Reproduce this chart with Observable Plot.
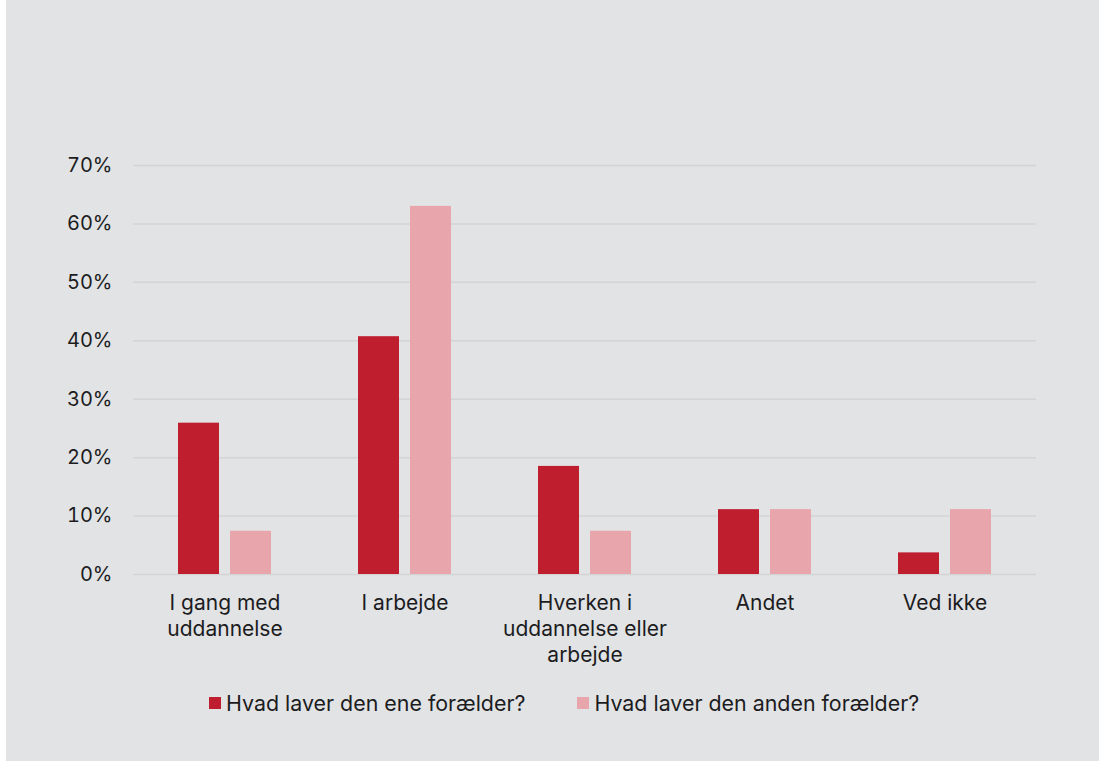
<!DOCTYPE html>
<html>
<head>
<meta charset="utf-8">
<script src="https://cdn.jsdelivr.net/npm/d3@7"></script>
<script src="https://cdn.jsdelivr.net/npm/@observablehq/plot@0.6"></script>
<style>
  html, body { margin: 0; padding: 0; background: #ffffff; }
  #wrap {
    position: relative; width: 1093px; height: 761px; margin-left: 6px;
    background: #e2e3e5; font-family: Inter, "Noto Sans", sans-serif; color: #1c1c1e;
    overflow: hidden;
  }
  #chart { position: absolute; left: 0; top: 0; }
  #legend {
    position: absolute; left: 203px; top: 690px; display: flex; align-items: center;
    font-size: 21.4px; line-height: 26px; white-space: nowrap;
  }
  #legend .item { display: flex; align-items: center; margin-right: 52px; }
  #legend .sw { width: 12px; height: 12px; margin-right: 5px; display: inline-block; }
</style>
</head>
<body>
<div id="wrap">
  <div id="chart"></div>
  <div id="legend"></div>
</div>
<script>
const categories = ["I gang med uddannelse", "I arbejde", "Hverken i uddannelse eller arbejde", "Andet", "Ved ikke"];
const categoryLabels = ["I gang med\nuddannelse", "I arbejde", "Hverken i\nuddannelse eller\narbejde", "Andet", "Ved ikke"];
const seriesNames = ["Hvad laver den ene forælder?", "Hvad laver den anden forælder?"];
const seriesColors = ["#be1e2e", "#e8a5ab"];
const eneValues = [25.9, 40.7, 18.5, 11.1, 3.7];
const andenValues = [7.4, 63.0, 7.4, 11.1, 11.1];
const yTicks = [0, 10, 20, 30, 40, 50, 60, 70];

const ene = categories.map((c, i) => ({category: c, value: eneValues[i], series: seriesNames[0]}));
const anden = categories.map((c, i) => ({category: c, value: andenValues[i], series: seriesNames[1]}));
const labelOf = new Map(categories.map((c, i) => [c, categoryLabels[i]]));

const plot = Plot.plot({
  width: 1093,
  height: 680,
  marginLeft: 127,
  marginRight: 63,
  marginTop: 165,
  marginBottom: 106,
  style: {background: "transparent", fontFamily: "Inter, 'Noto Sans', sans-serif", fontSize: "20px", color: "#1c1c1e"},
  x: {domain: categories, paddingInner: 0.485, paddingOuter: 0.2425, align: 0.5, axis: null, label: null},
  y: {domain: [0, 70], axis: null, label: null},
  color: {domain: seriesNames, range: seriesColors},
  marks: [
    Plot.ruleY(yTicks, {stroke: "#d3d4d6", strokeWidth: 1.5}),
    Plot.barY(ene, {x: "category", y: "value", fill: "series", insetRight: 52}),
    Plot.barY(anden, {x: "category", y: "value", fill: "series", insetLeft: 52}),
    Plot.axisY(yTicks, {tickSize: 0, tickPadding: 21, fontSize: 20, tickFormat: d => d + "%", fill: "#1c1c1e", label: null}),
    Plot.axisX({tickSize: 0, tickPadding: 17, fontSize: 21, lineHeight: 1.24, tickFormat: d => labelOf.get(d), fill: "#1c1c1e", label: null})
  ]
});
document.getElementById("chart").appendChild(plot);

const legend = document.getElementById("legend");
seriesNames.forEach((name, i) => {
  const item = document.createElement("span");
  item.className = "item";
  const sw = document.createElement("span");
  sw.className = "sw";
  sw.style.background = plot.scale("color").apply(name);
  item.appendChild(sw);
  item.appendChild(document.createTextNode(name));
  legend.appendChild(item);
});
</script>
</body>
</html>
